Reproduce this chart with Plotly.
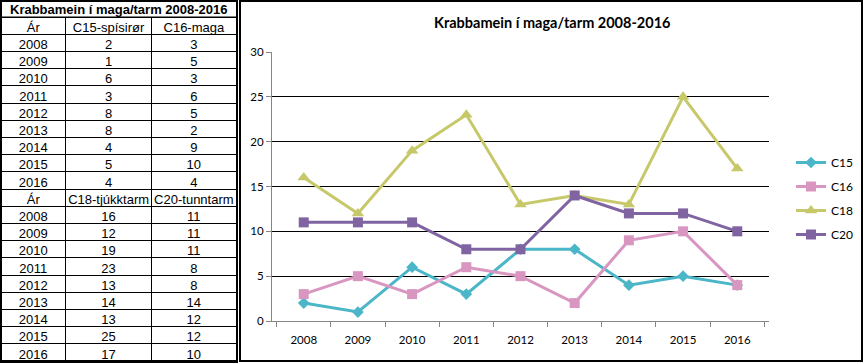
import plotly.graph_objects as go

years = ["2008", "2009", "2010", "2011", "2012", "2013", "2014", "2015", "2016"]
c15 = [2, 1, 6, 3, 8, 8, 4, 5, 4]
c16 = [3, 5, 3, 6, 5, 2, 9, 10, 4]
c18 = [16, 12, 19, 23, 13, 14, 13, 25, 17]
c20 = [11, 11, 11, 8, 8, 14, 12, 12, 10]
series_names = ["C15", "C16", "C18", "C20"]
header1 = ["Ár", "C15-spísirør", "C16-maga"]
header2 = ["Ár", "C18-tjúkktarm", "C20-tunntarm"]
title = "Krabbamein í maga/tarm 2008-2016"
y_ticks = [0, 5, 10, 15, 20, 25, 30]

W, H = 865, 364
def px(x): return x / W
def py(y): return (H - y) / H

colors = ["#4BB6C8", "#D896C1", "#C6C86A", "#8064A2"]
symbols = ["diamond", "square", "triangle-up", "square"]
sizes = [9, 10, 11, 10]

fig = go.Figure()

# table
col0 = years + [header2[0]] + years
col1 = [str(v) for v in c15] + [header2[1]] + [str(v) for v in c18]
col2 = [str(v) for v in c16] + [header2[2]] + [str(v) for v in c20]
rowh = 17.2
tfont = dict(family="Liberation Sans, Arial", size=13, color="black")
blank = [[""] * len(col0)] * 3
# grid (lines only)
fig.add_trace(go.Table(
    domain=dict(x=[px(1), px(237)], y=[0, py(17)]),
    columnwidth=[65, 87, 85],
    header=dict(values=["", "", ""], height=rowh, fill_color="white",
                line=dict(color="black", width=1), font=tfont),
    cells=dict(values=blank, height=rowh, fill_color="white",
               line=dict(color="black", width=1), font=tfont),
))
# text (transparent, nudged up for vertical centering)
fig.add_trace(go.Table(
    domain=dict(x=[px(1), px(237)], y=[py(364 - 3), py(14)]),
    columnwidth=[65, 87, 85],
    header=dict(values=header1, height=rowh, align="center",
                fill_color="rgba(0,0,0,0)", line=dict(color="rgba(0,0,0,0)", width=0),
                font=tfont),
    cells=dict(values=[col0, col1, col2], height=rowh, align="center",
               fill_color="rgba(0,0,0,0)", line=dict(color="rgba(0,0,0,0)", width=0),
               font=tfont),
))

data = [c15, c16, c18, c20]
for i, name in enumerate(series_names):
    fig.add_trace(go.Scatter(
        x=years, y=data[i], name=name, mode="lines+markers",
        legendgroup=name,
        line=dict(color=colors[i], width=3),
        marker=dict(symbol=symbols[i], size=sizes[i], color=colors[i]),
    ))

fig.update_layout(
    width=W, height=H, autosize=False,
    margin=dict(l=0, r=0, t=0, b=0, pad=0),
    paper_bgcolor="white", plot_bgcolor="white",
    showlegend=True,
    legend=dict(x=px(791), y=py(148), xanchor="left", yanchor="top",
                font=dict(family="Lato, Liberation Sans", size=12, color="black"),
                tracegroupgap=5, itemwidth=30, borderwidth=0,
                bgcolor="rgba(0,0,0,0)"),
    xaxis=dict(domain=[px(272), px(769)], type="category",
               showline=True, linecolor="#868686", linewidth=1,
               ticks="outside", tickson="boundaries", ticklen=5, tickcolor="#868686",
               ticklabelstandoff=8,
               showgrid=False, zeroline=False, automargin=False,
               tickfont=dict(family="Lato, Liberation Sans", size=11.5, color="black")),
    yaxis=dict(domain=[py(321), py(52)], range=[0, 30], tickvals=y_ticks,
               showline=True, linecolor="#868686", linewidth=1,
               ticks="outside", ticklen=5, tickcolor="#868686",
               showgrid=True, gridcolor="black", gridwidth=1, zeroline=False, automargin=False,
               tickfont=dict(family="Lato, Liberation Sans", size=11.5, color="black")),
    annotations=[
        dict(text="<b>" + title + "</b>", x=px(119), y=py(9), xref="paper", yref="paper",
             xanchor="center", yanchor="middle",
             showarrow=False, font=dict(family="Liberation Sans, Arial", size=13, color="black")),
        dict(text="<b>" + title + "</b>", x=px(552), y=py(22), xref="paper", yref="paper",
             xanchor="center", yanchor="middle",
             showarrow=False, font=dict(family="Lato, Liberation Sans", size=14.5, color="black")),
    ],
    shapes=[
        dict(type="rect", xref="paper", yref="paper", x0=px(1), x1=px(237), y0=py(362), y1=py(1),
             line=dict(color="black", width=2)),
        dict(type="line", xref="paper", yref="paper", x0=px(1), x1=px(237), y0=py(17), y1=py(17),
             line=dict(color="black", width=1)),
        dict(type="rect", xref="paper", yref="paper", x0=px(240), x1=px(862), y0=py(361), y1=py(1),
             line=dict(color="black", width=2)),
    ],
)

fig.write_html("out.html", config={"displayModeBar": False},
               post_script="document.body.style.margin='0px';document.body.style.overflow='hidden';")
